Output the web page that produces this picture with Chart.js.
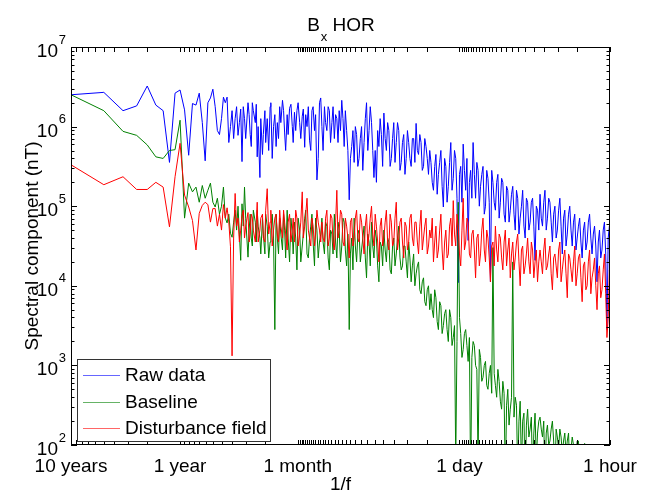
<!DOCTYPE html>
<html>
<head>
<meta charset="utf-8">
<title>Bx HOR</title>
<script src="https://cdn.jsdelivr.net/npm/chart.js"></script>
<style>
  body { margin: 0; background: #fff; overflow: hidden; }
  canvas { display: block; }
</style>
</head>
<body>
<canvas id="myChart" width="651" height="496"></canvas>
<script>
const recordHours = 87660; // 10 years of data

// FFT harmonic numbers that are plotted (period = recordHours / k)
const harmonics = [
  1, 2, 3, 4, 5, 6, 7, 8, 9, 10, 11, 12, 13, 14, 15, 16, 17, 18, 19, 20,
  21, 22, 23, 25, 26, 27, 29, 30, 32, 34, 36, 37, 39, 42, 44, 46, 49, 51, 54, 57,
  60, 63, 67, 70, 74, 78, 82, 87, 91, 96, 101, 107, 112, 118, 125, 132, 139, 146, 154, 162,
  171, 180, 190,
  200, 211, 222, 234, 247, 260, 274, 288, 304, 320, 337, 356, 375, 395, 416, 438, 462, 487, 513, 541,
  570, 600, 632, 666, 702, 740, 780, 822, 866, 912, 961, 1013, 1067, 1125, 1185, 1249, 1316, 1387, 1461, 1539,
  1622, 1709, 1801, 1898,
  2000, 2108, 2220, 2340, 2466, 2598, 2738, 2884, 3040, 3202, 3374, 3556, 3748, 3948, 4162, 4384, 4620, 4868, 5130, 5406,
  5696, 6002, 6324, 6664, 7022, 7400, 7796, 8216, 8658, 9122, 9612, 10128, 10674, 11246, 11850, 12488, 13158, 13866, 14610, 15394,
  16222, 17094, 18012, 18980,
  20000, 21075, 22200, 23400, 24660, 25980, 27380, 28840, 30400, 32020, 33740, 35560, 37480, 39480, 41620, 43840, 46200, 48680, 51300, 54060,
  56960, 60020, 63240, 66640, 70220, 74000, 77960, 82160, 86580, 87660
];

// extra harmonics in between, where the spectrum is dense
const midHarmonics = [
  24, 28, 31, 33, 35, 38, 40, 43, 45, 47, 50, 52, 55, 58, 61, 65, 68, 72, 76, 80,
  84, 89, 93, 98, 104, 109, 115, 121, 128, 135, 142, 150, 158, 166, 175, 185, 195,
  205, 216, 228, 240, 253, 267, 281, 296, 312, 328, 346, 365, 385, 405, 427, 450, 474, 500, 527, 555,
  585, 616, 649, 684, 721, 760, 801, 844, 889, 936, 987, 1040, 1096, 1155, 1217, 1282, 1351, 1424, 1500, 1580,
  1665, 1755, 1849, 1949,
  2054, 2164, 2280, 2403, 2532, 2668, 2811, 2962, 3121, 3288, 3465, 3652, 3848, 4055, 4273, 4502, 4744, 4999, 5268, 5551,
  5849, 6163, 6494, 6843, 7211, 7598, 8006, 8437, 8890, 9367, 9870, 10401, 10960, 11548, 12169, 12823, 13512, 14238, 15002, 15808,
  16658, 17553, 18496, 19490,
  20538, 21638, 22800, 24030, 25320, 26680, 28110, 29620, 31210, 32880, 34650, 36520, 38480, 40550, 42730, 45020, 47440, 49990, 52680, 55510,
  58490, 61630, 64940, 68430, 72110, 75980, 80060, 84370
];

// values as log10(nT)
const rawDataLog = [
  6.40, 6.43, 6.20, 6.26, 6.51, 6.27, 6.20, 5.55, 6.42, 6.46, 6.21, 5.64, 6.29, 6.27, 6.42, 6.05, 5.57, 6.30, 6.36, 6.47,
  6.25, 5.95, 5.90, 6.37, 6.30, 6.37, 6.00, 6.20, 6.10, 5.89, 6.22, 5.56, 6.10, 6.30, 5.90, 6.30, 6.05, 5.62, 5.36, 5.65,
  6.20, 6.10, 6.25, 5.60, 6.15, 6.05, 6.25, 6.33, 5.92, 6.15, 6.23, 6.00, 6.18, 6.20, 6.05, 6.13, 5.74, 6.00, 5.83, 6.20,
  5.95, 5.33, 6.30,
  6.00, 6.25, 5.95, 6.20, 6.05, 5.85, 6.10, 6.20, 6.33, 5.75, 5.95, 5.08, 5.75, 5.55, 5.90, 5.60, 6.00, 5.80, 6.30, 5.95,
  6.05, 5.36, 5.30, 5.75, 5.90, 6.17, 5.70, 5.95, 5.60, 6.05, 5.80, 5.95, 5.55, 5.90, 5.60, 5.80, 5.50, 5.85, 6.04, 5.65,
  5.80, 5.50, 5.75, 5.40,
  5.55, 5.20, 5.65, 5.40, 5.70, 4.99, 5.50, 5.25, 5.80, 5.35, 5.60, 4.04, 5.50, 5.78, 5.20, 4.57, 5.45, 5.80, 5.10, 5.45,
  5.25, 5.50, 5.00, 5.35, 4.05, 5.30, 4.95, 5.40, 5.05, 5.30, 4.80, 5.20, 4.95, 5.25, 4.70, 5.10, 4.85, 5.20, 4.60, 5.05,
  4.80, 5.10, 4.32, 4.95,
  5.15, 4.75, 5.20, 4.85, 5.05, 4.55, 5.00, 4.70, 5.10, 4.40, 4.95, 4.65, 5.00, 4.50, 4.90, 4.60, 4.85, 4.35, 4.80, 4.55,
  4.90, 4.40, 4.75, 4.05, 4.70, 4.45, 4.80, 3.45, 4.75, 4.55
];
const rawDataMidLog = [
  6.10, 5.80, 5.85, 6.25, 6.05, 6.25, 5.85, 6.15, 5.75, 6.20, 6.28, 6.00, 6.10, 5.90, 5.80, 5.70, 6.30, 6.00, 5.75, 5.85,
  6.05, 6.20, 5.70, 5.90, 6.28, 5.80, 5.95, 6.30, 5.85, 6.22, 6.15, 6.25, 5.70, 6.25, 6.15, 5.60, 6.36,
  5.70, 6.05, 6.25, 5.80, 6.25, 6.15, 5.80, 5.95, 6.10, 6.20, 5.70, 5.60, 5.95, 6.00, 5.50, 5.85, 5.45, 6.10, 5.70, 6.25,
  5.70, 5.70, 5.95, 6.10, 5.50, 5.85, 6.05, 5.50, 5.85, 5.55, 6.05, 5.45, 5.80, 5.40, 5.95, 5.60, 5.85, 5.55, 5.70, 5.90,
  5.45, 5.85, 5.60, 5.70,
  5.30, 5.50, 5.15, 5.55, 5.25, 5.60, 5.05, 5.55, 5.20, 5.70, 5.10, 5.40, 5.05, 5.45, 5.60, 5.30, 5.10, 5.40, 5.55, 5.00,
  5.40, 4.90, 5.45, 5.05, 5.45, 5.05, 5.30, 4.85, 5.35, 4.90, 5.25, 4.80, 5.15, 4.90, 5.20, 4.65, 5.00, 4.75, 5.10, 4.70,
  5.05, 4.75, 5.00, 4.70,
  4.85, 5.05, 4.70, 5.10, 4.80, 4.90, 4.60, 4.95, 4.75, 4.85, 4.50, 4.90, 4.70, 4.80, 4.45, 4.75, 4.55, 4.70, 4.45, 4.80,
  4.60, 4.65, 4.50, 4.55, 4.35, 4.70, 4.40, 4.60
];

const baselineLog = [
  6.40, 6.20, 5.94, 5.89, 5.77, 5.62, 5.60, 5.70, 5.71, 6.08, 4.85, 5.29, 5.18, 5.24, 5.05, 5.26, 5.10, 5.20, 5.29, 5.05,
  4.99, 5.10, 4.90, 5.24, 4.85, 4.79, 4.66, 4.61, 4.95, 5.00, 4.32, 5.03, 5.24, 4.36, 4.90, 4.50, 4.80, 4.95, 4.60, 4.85,
  4.40, 4.75, 4.55, 4.90, 3.45, 4.60, 4.85, 4.45, 4.70, 4.95, 4.30, 4.65, 4.80, 4.20, 4.70, 4.50, 4.85, 4.40, 4.60, 4.90,
  4.25, 4.70, 4.55,
  4.85, 4.40, 4.75, 4.20, 4.65, 4.90, 4.35, 4.70, 4.50, 4.80, 4.25, 3.45, 4.60, 4.85, 4.30, 4.70, 4.45, 4.75, 4.10, 4.55,
  4.80, 4.35, 4.60, 4.05, 4.50, 4.70, 4.30, 4.55, 4.15, 4.60, 4.40, 4.75, 4.20, 4.50, 4.30, 4.55, 4.05, 4.40, 4.15, 4.30,
  3.90, 4.10, 3.75, 4.00,
  3.90, 3.60, 3.85, 3.45, 3.75, 3.50, 3.70, 3.30, 3.60, 3.35, 1.80, 5.05, 3.40, 3.20, 3.45, 3.05, 1.50, 3.30, 3.00, 1.80,
  3.10, 2.85, 3.05, 2.70, 3.00, 4.48, 2.75, 2.95, 2.55, 2.80, 1.50, 2.70, 2.45, 4.30, 2.60, 1.60, 2.55, 2.30, 1.50, 2.45,
  2.20, 1.60, 2.40, 2.15,
  2.35, 2.10, 1.50, 2.25, 2.05, 2.30, 1.60, 2.10, 2.20, 1.90, 2.15, 2.05, 1.70, 2.10, 2.00, 2.05, 1.80, 1.90, 2.02, 1.70,
  1.60, 1.50, 1.40, 1.45, 1.30, 1.35, 1.20, 1.25, 1.10, 1.00
];
const baselineMidLog = [
  5.00, 4.90, 4.80, 4.70, 4.65, 4.75, 4.85, 4.70, 4.60, 4.95, 4.55, 4.75, 4.40, 4.65, 4.90, 4.35, 4.70, 4.60, 4.90, 4.40,
  4.65, 4.90, 4.35, 4.60, 4.85, 4.40, 4.60, 4.85, 4.30, 4.65, 4.95, 4.35, 4.75, 4.55, 4.85, 4.35, 4.65,
  4.55, 4.80, 4.35, 4.70, 4.40, 4.55, 4.80, 4.30, 4.85, 4.45, 4.65, 4.40, 4.20, 4.50, 4.65, 4.30, 4.60, 4.35, 4.65, 4.25,
  4.50, 4.70, 4.25, 4.55, 4.25, 4.45, 4.60, 4.20, 4.50, 4.25, 4.60, 4.35, 4.25, 4.50, 4.10, 4.35, 4.25, 4.00, 4.25, 3.95,
  4.05, 3.80, 3.95, 3.70,
  3.70, 3.95, 3.55, 3.80, 3.40, 3.65, 3.45, 3.70, 3.25, 3.50, 3.30, 3.60, 3.10, 3.40, 3.25, 3.35, 3.10, 3.25, 2.95, 3.20,
  2.80, 3.00, 2.75, 2.90, 2.65, 2.90, 2.60, 2.80, 2.45, 2.65, 2.50, 2.25, 2.60, 2.35, 2.50, 2.30, 1.70, 2.40, 2.25, 2.10,
  2.35, 2.15, 1.80, 2.30,
  2.20, 2.30, 2.15, 2.00, 2.20, 2.05, 2.20, 1.95, 2.10, 2.05, 1.90, 2.15, 1.95, 2.00, 1.85, 2.05, 1.95, 1.80, 1.90, 1.65,
  1.55, 1.45, 1.40, 1.35, 1.30, 1.25, 1.20, 1.10
];

const disturbanceLog = [
  5.52, 5.27, 5.37, 5.21, 5.21, 5.30, 5.24, 4.74, 5.37, 5.79, 5.14, 4.99, 4.82, 4.45, 4.91, 5.01, 5.05, 5.02, 4.80, 4.97,
  4.97, 4.75, 4.90, 5.02, 4.85, 4.98, 4.49, 3.12, 5.16, 4.85, 4.70, 4.88, 4.60, 4.92, 4.65, 4.85, 4.55, 5.05, 4.70, 4.90,
  4.55, 5.22, 4.80, 4.50, 4.85, 4.65, 4.95, 4.60, 4.80, 4.45, 4.90, 4.70, 4.55, 4.85, 4.65, 5.18, 4.75, 5.10, 4.60, 4.85,
  4.50, 4.95, 4.70,
  4.80, 4.55, 4.95, 4.60, 4.85, 4.45, 5.20, 4.70, 4.90, 4.50, 4.75, 4.35, 4.85, 4.60, 4.95, 4.55, 4.80, 4.40, 4.90, 4.65,
  5.00, 4.50, 4.75, 4.30, 4.85, 4.60, 4.95, 4.45, 4.80, 4.55, 5.05, 4.60, 4.85, 4.35, 4.75, 4.55, 4.90, 4.50, 4.80, 4.40,
  4.95, 4.60, 4.85, 4.50,
  4.60, 4.30, 4.75, 4.45, 4.90, 4.20, 4.70, 4.40, 4.85, 5.07, 4.50, 4.75, 4.25, 5.10, 4.55, 4.80, 4.35, 4.70, 4.10, 4.65,
  4.40, 4.85, 4.30, 4.60, 4.05, 4.55, 4.75, 4.30, 4.60, 4.20, 4.70, 4.45, 4.10, 4.55, 4.35, 4.65, 4.00, 4.50, 4.25, 4.60,
  4.15, 4.45, 4.30, 4.05,
  4.45, 4.15, 4.60, 4.25, 4.50, 3.95, 4.40, 4.10, 4.55, 4.20, 4.45, 3.85, 4.35, 4.05, 4.50, 4.15, 4.40, 3.80, 4.30, 4.00,
  4.45, 4.10, 4.35, 3.70, 4.25, 3.95, 4.40, 3.35, 4.20, 4.00
];
const disturbanceMidLog = [
  4.70, 4.80, 4.60, 4.75, 4.55, 4.95, 4.75, 4.55, 4.90, 4.70, 4.80, 4.55, 4.85, 4.60, 4.95, 4.65, 4.95, 4.70, 4.90, 4.55,
  4.75, 4.95, 4.65, 4.80, 4.55, 4.85, 4.95, 4.50, 4.80, 4.60, 4.90, 4.70, 4.50, 4.75, 4.65, 4.80, 4.55,
  4.60, 4.85, 4.50, 4.90, 4.55, 4.80, 4.60, 4.95, 4.55, 4.85, 4.60, 4.80, 4.50, 4.85, 4.60, 4.90, 4.60, 4.75, 4.50, 4.85,
  4.65, 4.90, 4.55, 4.75, 4.50, 4.80, 4.55, 4.90, 4.50, 4.85, 4.45, 4.80, 4.55, 4.80, 4.45, 4.85, 4.60, 4.80, 4.55, 4.75,
  4.45, 4.75, 4.40, 4.70,
  4.85, 4.55, 4.35, 4.70, 4.45, 4.55, 4.35, 4.75, 4.50, 4.65, 4.90, 4.40, 4.70, 4.45, 4.85, 4.40, 4.65, 4.45, 4.60, 4.25,
  4.70, 4.45, 4.70, 4.35, 4.50, 4.25, 4.45, 4.65, 4.35, 4.55, 4.25, 4.60, 4.40, 4.20, 4.55, 4.30, 4.45, 4.15, 4.40, 4.30,
  4.55, 4.10, 4.45, 4.30,
  4.30, 4.45, 4.20, 4.40, 4.15, 4.35, 4.25, 4.45, 4.05, 4.35, 4.15, 4.40, 4.20, 4.30, 4.00, 4.35, 4.10, 4.25, 3.95, 4.30,
  3.90, 4.20, 4.00, 4.15, 3.85, 4.20, 3.90, 3.60
];

const seriesLabels = ["Raw data", "Baseline", "Disturbance field"];
const seriesColors = ["#0000ff", "#008000", "#ff0000"];

const xTickHours = [87660, 8766, 730.5, 24, 1];
const xTickLabels = ["10 years", "1 year", "1 month", "1 day", "1 hour"];
const yTickExps = [2, 3, 4, 5, 6, 7];

const fontFamily = "'Liberation Sans', Helvetica, Arial, sans-serif";

function toPoints(ks, logValues) {
  return ks.map((k, i) => ({ x: recordHours / k, y: Math.pow(10, logValues[i]) }));
}

function spectrum(mainLog, midLog) {
  return toPoints(harmonics, mainLog).concat(toPoints(midHarmonics, midLog)).sort((a, b) => b.x - a.x);
}

// MATLAB style box with inward ticks
const axesBox = {
  id: "axesBox",
  afterDatasetsDraw(chart) {
    const ctx = chart.ctx;
    const a = chart.chartArea;
    const xs = chart.scales.x;
    const ys = chart.scales.y;
    ctx.save();
    ctx.strokeStyle = "#000";
    ctx.lineWidth = 1;
    ctx.strokeRect(a.left + 0.5, a.top + 0.5, a.right - a.left - 1, a.bottom - a.top - 1);

    ctx.beginPath();
    for (let e = 2; e <= 7; e++) {
      for (let m = 1; m <= 9; m++) {
        if (e === 7 && m > 1) break;
        const py = Math.round(ys.getPixelForValue(m * Math.pow(10, e))) + 0.5;
        const len = m === 1 ? 6 : 3.5;
        ctx.moveTo(a.left, py); ctx.lineTo(a.left + len, py);
        ctx.moveTo(a.right, py); ctx.lineTo(a.right - len, py);
      }
    }
    const hours = [];
    for (let n = 1; n <= 10; n++) hours.push(n * 8766);
    for (let n = 1; n <= 11; n++) hours.push(n * 730.5);
    for (let n = 1; n <= 30; n++) hours.push(n * 24);
    for (let n = 1; n <= 23; n++) hours.push(n);
    hours.forEach(h => {
      const px = Math.round(xs.getPixelForValue(h)) + 0.5;
      ctx.moveTo(px, a.bottom); ctx.lineTo(px, a.bottom - 5);
      ctx.moveTo(px, a.top); ctx.lineTo(px, a.top + 5);
    });
    ctx.stroke();
    ctx.restore();
  },
  afterDraw(chart) {
    const ctx = chart.ctx;
    const a = chart.chartArea;
    const ys = chart.scales.y;
    ctx.save();
    ctx.fillStyle = "#000";

    // y labels 10^n
    ctx.textBaseline = "alphabetic";
    ctx.textAlign = "right";
    yTickExps.forEach(e => {
      const py = ys.getPixelForValue(Math.pow(10, e));
      ctx.font = "19px " + fontFamily;
      ctx.fillText("10", a.left - 13, py + 10);
      ctx.font = "13px " + fontFamily;
      ctx.fillText(String(e), a.left - 5, py - 3.5);
    });

    // title B_x HOR
    ctx.textAlign = "left";
    ctx.font = "19px " + fontFamily;
    const wB = ctx.measureText("B").width;
    const wH = ctx.measureText(" HOR").width;
    ctx.font = "13px " + fontFamily;
    const wx = ctx.measureText("x").width;
    let tx = (a.left + a.right) / 2 - (wB + wx + wH) / 2;
    ctx.font = "19px " + fontFamily;
    ctx.fillText("B", tx, 31);
    ctx.font = "13px " + fontFamily;
    ctx.fillText("x", tx + wB + 1, 41);
    ctx.font = "19px " + fontFamily;
    ctx.fillText(" HOR", tx + wB + wx + 1, 31);

    // legend
    ctx.fillStyle = "#fff";
    ctx.fillRect(77, 359, 194, 83);
    ctx.strokeStyle = "#333";
    ctx.lineWidth = 1;
    ctx.strokeRect(77.5, 359.5, 193, 82);
    ctx.textBaseline = "middle";
    ctx.font = "19px " + fontFamily;
    chart.data.datasets.forEach((ds, i) => {
      const ly = 375 + i * 26.5;
      ctx.globalAlpha = 0.6;
      ctx.strokeStyle = ds.borderColor;
      ctx.beginPath();
      ctx.moveTo(83, Math.round(ly) + 0.5);
      ctx.lineTo(120, Math.round(ly) + 0.5);
      ctx.stroke();
      ctx.globalAlpha = 1;
      ctx.fillStyle = "#000";
      ctx.fillText(ds.label, 125, ly + 1);
    });
    ctx.restore();
  }
};

const seriesData = [
  spectrum(rawDataLog, rawDataMidLog),
  spectrum(baselineLog, baselineMidLog),
  spectrum(disturbanceLog, disturbanceMidLog)
];

const datasets = seriesData.map((pts, i) => ({
  label: seriesLabels[i],
  data: pts,
  borderColor: seriesColors[i],
  borderWidth: 1,
  pointRadius: 0,
  tension: 0,
  fill: false,
  order: 2 - i
}));

new Chart("myChart", {
  type: "line",
  data: { datasets: datasets },
  options: {
    responsive: false,
    devicePixelRatio: 1,
    animation: false,
    layout: { padding: { top: 47, right: 41, bottom: 0, left: 0 }, autoPadding: false },
    plugins: {
      legend: { display: false },
      tooltip: { enabled: false },
      title: { display: false }
    },
    scales: {
      x: {
        type: "logarithmic",
        reverse: true,
        min: 1,
        max: recordHours,
        afterBuildTicks: scale => { scale.ticks = xTickHours.map(v => ({ value: v })); },
        afterFit: scale => { scale.height = 51; },
        grid: { display: false, drawTicks: false },
        border: { display: false },
        ticks: {
          autoSkip: false,
          maxRotation: 0,
          padding: 10,
          color: "#000",
          font: { family: fontFamily, size: 19 },
          callback: (value, index) => xTickLabels[index]
        },
        title: { display: true, text: "1/f", color: "#000", font: { family: fontFamily, size: 19 }, padding: 0 }
      },
      y: {
        type: "logarithmic",
        min: 100,
        max: 1e7,
        afterFit: scale => { scale.width = 71; },
        grid: { display: false, drawTicks: false },
        border: { display: false },
        ticks: { display: false },
        title: { display: true, text: "Spectral component (nT)", color: "#000", font: { family: fontFamily, size: 19 }, padding: 21 }
      }
    }
  },
  plugins: [axesBox]
});
</script>
</body>
</html>
